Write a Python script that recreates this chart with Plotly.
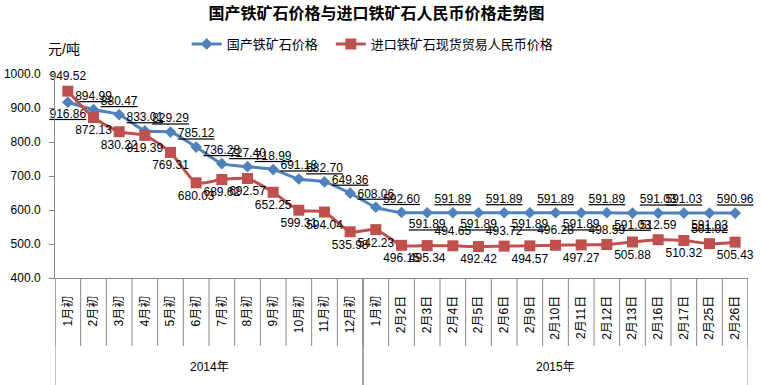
import plotly.graph_objects as go

categories = ["1月初", "2月初", "3月初", "4月初", "5月初", "6月初", "7月初", "8月初", "9月初",
              "10月初", "11月初", "12月初",
              "1月初", "2月2日", "2月3日", "2月4日", "2月5日", "2月6日", "2月9日", "2月10日",
              "2月11日", "2月12日", "2月13日", "2月16日", "2月17日", "2月25日", "2月26日"]
years = ["2014年"] * 12 + ["2015年"] * 15

domestic = [916.86, 894.99, 880.47, 833.01, 829.29, 785.12, 736.28, 727.40, 718.99, 691.18,
            682.70, 649.36, 608.06, 592.60, 591.89, 591.89, 591.89, 591.89, 591.89, 591.89,
            591.89, 591.89, 591.03, 591.03, 591.03, 591.03, 590.96]
imported = [949.52, 872.13, 830.22, 819.39, 769.31, 680.03, 689.62, 692.57, 652.25, 599.31,
            594.04, 535.98, 542.23, 496.15, 495.34, 494.65, 492.42, 493.72, 494.57, 496.28,
            497.27, 498.59, 505.88, 512.59, 510.32, 501.02, 505.43]

dom_pos = ["bottom center"] + ["top center"] * 13 + \
          ["bottom center", "top center", "bottom center", "top center", "bottom center",
           "top center", "bottom center", "top center", "bottom center", "top center",
           "top center", "bottom center", "top center"]
imp_pos = ["top center"] + ["bottom center"] * 14 + \
          ["top center", "bottom center", "top center", "bottom center", "top center",
           "bottom center", "top center", "bottom center", "top center", "bottom center",
           "top center", "bottom center"]

FONT = "Liberation Sans, Noto Sans CJK SC, sans-serif"
BLUE = "#4F81BD"
RED = "#C0504D"
AX = "#868686"

x = list(range(len(categories)))

fig = go.Figure()
fig.add_trace(go.Scatter(
    x=x, y=domestic, name="国产铁矿石价格", mode="lines+markers+text",
    line=dict(color=BLUE, width=3, shape="spline", smoothing=0.6),
    marker=dict(symbol="diamond", size=9, color=BLUE),
    text=[f"{v:.2f}" for v in domestic], textposition=dom_pos,
    textfont=dict(size=12, color="#000000", family=FONT, lineposition="under"),
    cliponaxis=False, legend="legend"))
fig.add_trace(go.Scatter(
    x=x, y=imported, name="进口铁矿石现货贸易人民币价格", mode="lines+markers+text",
    line=dict(color=RED, width=3, shape="spline", smoothing=0.6),
    marker=dict(symbol="square", size=11, color=RED),
    text=[f"{v:.2f}" for v in imported], textposition=imp_pos,
    textfont=dict(size=12, color="#000000", family=FONT),
    cliponaxis=False, legend="legend2"))

n = len(categories)
# inner category boundaries
for k in range(n + 1):
    fig.add_shape(type="line", xref="x", yref="paper", x0=k - 0.5, x1=k - 0.5,
                  y0=0, y1=-0.333, line=dict(color=AX, width=1))
# group separators
groups = []
for i, yname in enumerate(years):
    if not groups or groups[-1][0] != yname:
        groups.append([yname, i, i])
    else:
        groups[-1][2] = i
for gname, a, b in groups:
    for xv in (a - 0.5, b + 0.5):
        fig.add_shape(type="line", xref="x", yref="paper", x0=xv, x1=xv,
                      y0=0, y1=-0.53, line=dict(color=AX, width=1))
    fig.add_annotation(x=(a + b) / 2, y=-0.436, xref="x", yref="paper", text=gname,
                       showarrow=False, font=dict(size=12, family=FONT, color="#000"),
                       xanchor="center", yanchor="middle")

fig.add_annotation(x=0.0137, y=1.122, xref="paper", yref="paper", text="元/吨",
                   showarrow=False, font=dict(size=14, family=FONT, color="#000"),
                   xanchor="center", yanchor="middle")

leg_common = dict(orientation="h", xanchor="left", y=1.147, yanchor="middle",
                  font=dict(size=13, family=FONT, color="#000"), bgcolor="rgba(0,0,0,0)")
fig.update_layout(
    width=762, height=385,
    margin=dict(l=55, r=14, t=74, b=107, autoexpand=False),
    paper_bgcolor="white", plot_bgcolor="white",
    title=dict(text="<b>国产铁矿石价格与进口铁矿石人民币价格走势图</b>", x=0.494, xanchor="center",
               y=0.965, yanchor="middle", font=dict(size=16, family=FONT, color="#000")),
    legend=dict(x=0.19, **leg_common),
    legend2=dict(x=0.398, **leg_common),
    font=dict(family=FONT, size=12, color="#000"),
    showlegend=True,
)
fig.update_xaxes(range=[-0.5, n - 0.5], tickvals=x, ticktext=categories, tickangle=-90,
                 showgrid=False, zeroline=False, showline=True, linecolor=AX, linewidth=1,
                 ticks="", ticklabelstandoff=12, automargin=False,
                 tickfont=dict(size=12, family=FONT, color="#000"))
fig.update_yaxes(range=[400, 1000], dtick=100, tickformat=".1f", showgrid=False, zeroline=False,
                 showline=True, linecolor=AX, linewidth=1, ticks="outside", ticklen=5,
                 tickcolor=AX, ticklabelstandoff=6, automargin=False,
                 tickfont=dict(size=12, family=FONT, color="#000"))

fig.write_html("out.html", config={"displayModeBar": False},
               post_script="document.body.style.margin='0';")
